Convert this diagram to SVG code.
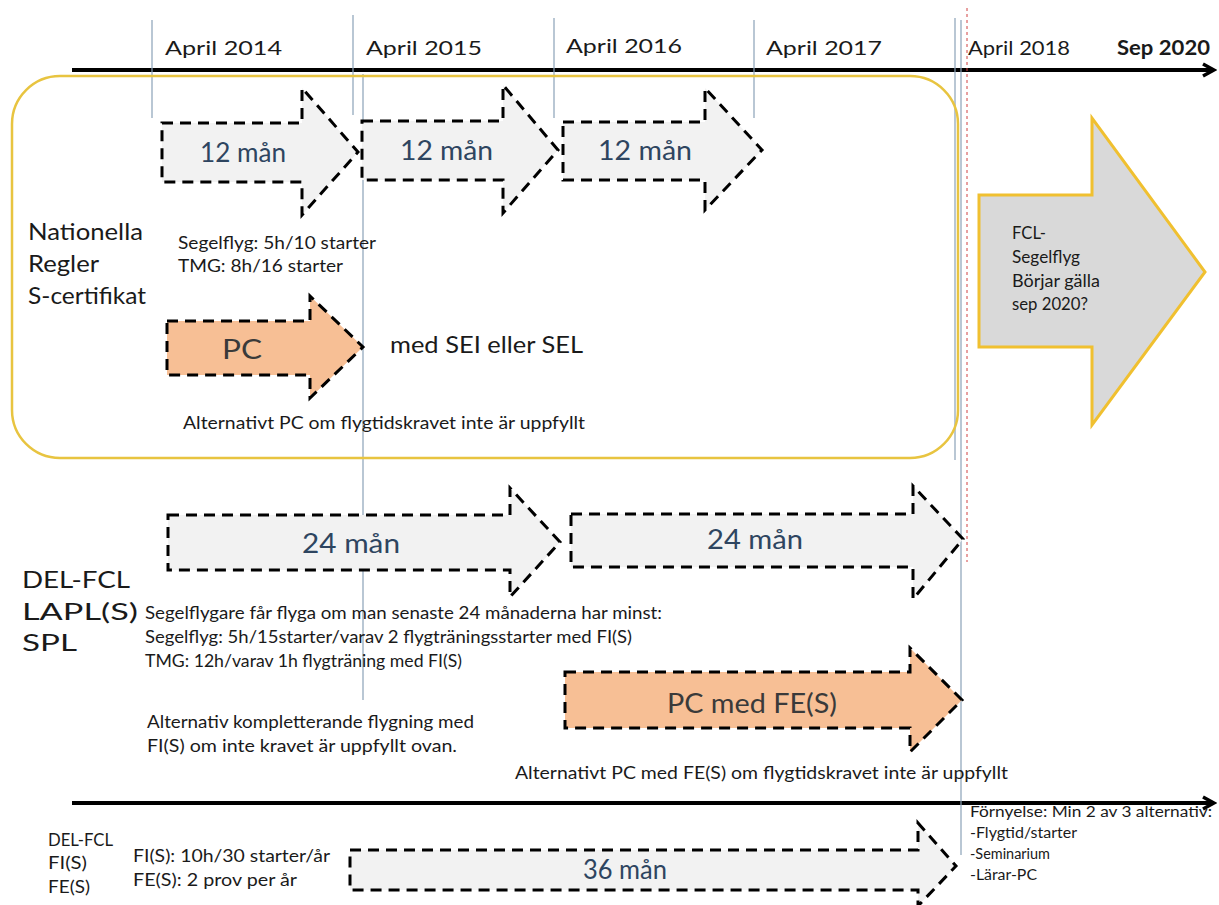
<svg xmlns="http://www.w3.org/2000/svg" width="1219" height="905" viewBox="0 0 1219 905">
<style>
text{font-family:Lato,"Open Sans","Liberation Sans",sans-serif;fill:#1a1a1a}
.yr{font-size:20px}
.big{font-size:27px;fill:#2e4560}
.lbl{font-size:23px}
.sm{font-size:17px}
.xs{font-size:14.5px}
.arr{stroke:#000;stroke-width:3;stroke-dasharray:11 7;stroke-linejoin:miter}
.gray{fill:#f2f2f2}
.org{fill:#f7bf95}
.vl{stroke:#8aa2b8;stroke-width:1.2}
.axis{stroke:#000;stroke-width:4}
</style>
<defs>
<marker id="ah" markerUnits="userSpaceOnUse" markerWidth="16" markerHeight="16" refX="12" refY="8" orient="auto">
<path d="M2,2 L13,8 L2,14" fill="none" stroke="#000" stroke-width="3.5"/>
</marker>
</defs>

<g id="connectors">
<line class="axis" x1="72" y1="70" x2="1213" y2="70" marker-end="url(#ah)"/>
<line class="axis" x1="72" y1="803" x2="1213" y2="803" marker-end="url(#ah)"/>
<line class="vl" x1="152" y1="20" x2="152" y2="118"/>
<line class="vl" x1="353" y1="15" x2="353" y2="115"/>
<line class="vl" x1="554" y1="18" x2="554" y2="118"/>
<line class="vl" x1="754" y1="20" x2="754" y2="118"/>
<line class="vl" x1="955" y1="18" x2="955" y2="460"/>
<line class="vl" x1="961" y1="20" x2="961" y2="855"/>
<line class="vl" x1="363" y1="74" x2="363" y2="700"/>
<line x1="967" y1="8" x2="967" y2="562" stroke="#d04040" stroke-width="1" stroke-dasharray="3 3"/>
</g>

<g id="timeline-labels">
<text class="yr" x="165" y="55" textLength="117" lengthAdjust="spacingAndGlyphs">April 2014</text>
<text class="yr" x="366" y="55" textLength="116" lengthAdjust="spacingAndGlyphs">April 2015</text>
<text class="yr" x="566" y="53" textLength="116" lengthAdjust="spacingAndGlyphs">April 2016</text>
<text class="yr" x="766" y="55" textLength="116" lengthAdjust="spacingAndGlyphs">April 2017</text>
<text class="yr" x="968" y="55" textLength="102" lengthAdjust="spacingAndGlyphs">April 2018</text>
<text class="yr" x="1117" y="55" textLength="93" lengthAdjust="spacingAndGlyphs" font-weight="bold" font-size="18">Sep 2020</text>
</g>

<g id="nationella-box">
<rect x="12" y="76" width="946" height="382" rx="48" fill="none" stroke="#e8c440" stroke-width="2.5"/>
<text class="lbl" x="28" y="240" textLength="115" lengthAdjust="spacingAndGlyphs">Nationella</text>
<text class="lbl" x="28" y="272" textLength="71" lengthAdjust="spacingAndGlyphs">Regler</text>
<text class="lbl" x="28" y="304" textLength="118" lengthAdjust="spacingAndGlyphs">S-certifikat</text>
</g>

<g id="arrow-12-1">
<path class="arr gray" d="M162,123 H302 V88 L358,152 L302,215 V182 H162 Z"/>
<text class="big" x="200" y="162" textLength="86" lengthAdjust="spacingAndGlyphs">12 mån</text>
</g>
<g id="arrow-12-2">
<path class="arr gray" d="M362,121 H503 V85 L558,150 L503,213 V180 H362 Z"/>
<text class="big" x="400" y="160" textLength="93" lengthAdjust="spacingAndGlyphs">12 mån</text>
</g>
<g id="arrow-12-3">
<path class="arr gray" d="M563,122 H705 V88 L762,150 L705,210 V180 H563 Z"/>
<text class="big" x="598" y="160" textLength="94" lengthAdjust="spacingAndGlyphs">12 mån</text>
</g>

<g id="nat-req">
<text class="sm" x="178" y="249" textLength="198" lengthAdjust="spacingAndGlyphs">Segelflyg: 5h/10 starter</text>
<text class="sm" x="178" y="272" textLength="165" lengthAdjust="spacingAndGlyphs">TMG: 8h/16 starter</text>
</g>

<g id="arrow-pc">
<path class="arr org" d="M167,321 H310 V296 L363,347 L310,398 V375 H167 Z"/>
<text class="big" x="222" y="359" textLength="40" lengthAdjust="spacingAndGlyphs" style="fill:#3a3a3a">PC</text>
</g>
<g id="pc-note">
<text class="lbl" x="390" y="353" textLength="193" lengthAdjust="spacingAndGlyphs">med SEI eller SEL</text>
<text class="sm" x="183" y="429" textLength="402" lengthAdjust="spacingAndGlyphs">Alternativt PC om flygtidskravet inte är uppfyllt</text>
</g>

<g id="arrow-fcl">
<path d="M979,195 H1092 V118 L1205,272 L1092,425 V347 H979 Z" fill="#d9d9d9" stroke="#f0c030" stroke-width="3"/>
<text class="sm" x="1012" y="239" textLength="34" lengthAdjust="spacingAndGlyphs">FCL-</text>
<text class="sm" x="1012" y="263" textLength="68" lengthAdjust="spacingAndGlyphs">Segelflyg</text>
<text class="sm" x="1012" y="287" textLength="88" lengthAdjust="spacingAndGlyphs">Börjar gälla</text>
<text class="sm" x="1012" y="310" textLength="76" lengthAdjust="spacingAndGlyphs">sep 2020?</text>
</g>

<g id="arrow-24-1">
<path class="arr gray" d="M168,515 H510 V488 L560,542 L510,597 V570 H168 Z"/>
<text class="big" x="302" y="553" textLength="98" lengthAdjust="spacingAndGlyphs">24 mån</text>
</g>
<g id="arrow-24-2">
<path class="arr gray" d="M571,514 H913 V486 L963,539 L913,599 V567 H571 Z"/>
<text class="big" x="707" y="549" textLength="96" lengthAdjust="spacingAndGlyphs">24 mån</text>
</g>

<g id="delfcl-label">
<text class="lbl" x="22" y="588" textLength="108" lengthAdjust="spacingAndGlyphs">DEL-FCL</text>
<text class="lbl" x="22" y="620" textLength="116" lengthAdjust="spacingAndGlyphs">LAPL(S)</text>
<text class="lbl" x="22" y="651" textLength="55" lengthAdjust="spacingAndGlyphs">SPL</text>
</g>
<g id="delfcl-req">
<text class="sm" x="145" y="619" textLength="517" lengthAdjust="spacingAndGlyphs">Segelflygare får flyga om man senaste 24 månaderna har minst:</text>
<text class="sm" x="145" y="643" textLength="487" lengthAdjust="spacingAndGlyphs">Segelflyg: 5h/15starter/varav 2 flygträningsstarter med FI(S)</text>
<text class="sm" x="145" y="667" textLength="317" lengthAdjust="spacingAndGlyphs">TMG: 12h/varav 1h flygträning med FI(S)</text>
<text class="sm" x="147" y="728" textLength="327" lengthAdjust="spacingAndGlyphs">Alternativ kompletterande flygning med</text>
<text class="sm" x="147" y="752" textLength="310" lengthAdjust="spacingAndGlyphs">FI(S) om inte kravet är uppfyllt ovan.</text>
</g>

<g id="arrow-pc-fe">
<path class="arr org" d="M565,672 H910 V648 L962,700 L910,752 V728 H565 Z"/>
<text class="big" x="667" y="713" textLength="170" lengthAdjust="spacingAndGlyphs" style="fill:#3a3a3a">PC med FE(S)</text>
</g>
<g id="pc-fe-note">
<text class="sm" x="515" y="779" textLength="493" lengthAdjust="spacingAndGlyphs">Alternativt PC med FE(S) om flygtidskravet inte är uppfyllt</text>
</g>

<g id="fi-label">
<text class="sm" x="48" y="846" textLength="65" lengthAdjust="spacingAndGlyphs">DEL-FCL</text>
<text class="sm" x="48" y="869" textLength="39" lengthAdjust="spacingAndGlyphs">FI(S)</text>
<text class="sm" x="48" y="893" textLength="42" lengthAdjust="spacingAndGlyphs">FE(S)</text>
<text class="sm" x="133" y="862" textLength="197" lengthAdjust="spacingAndGlyphs">FI(S): 10h/30 starter/år</text>
<text class="sm" x="133" y="886" textLength="164" lengthAdjust="spacingAndGlyphs">FE(S): 2 prov per år</text>
</g>

<g id="arrow-36">
<path class="arr gray" d="M350,850 H918 V823 L956,866 L918,906 V890 H350 Z"/>
<text class="big" x="583" y="879" textLength="84" lengthAdjust="spacingAndGlyphs">36 mån</text>
</g>

<g id="renewal">
<text class="xs" x="970" y="817" textLength="242" lengthAdjust="spacingAndGlyphs">Förnyelse: Min 2 av 3 alternativ:</text>
<text class="xs" x="970" y="838" textLength="107" lengthAdjust="spacingAndGlyphs">-Flygtid/starter</text>
<text class="xs" x="970" y="859" textLength="80" lengthAdjust="spacingAndGlyphs">-Seminarium</text>
<text class="xs" x="970" y="880" textLength="67" lengthAdjust="spacingAndGlyphs">-Lärar-PC</text>
</g>
</svg>
